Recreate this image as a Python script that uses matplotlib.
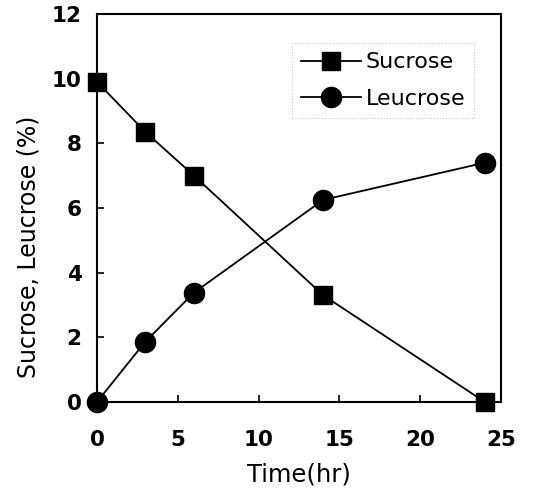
import numpy as np
import matplotlib.pyplot as plt

# data
time_hr = [0, 3, 6, 14, 24]
sucrose = [9.9, 8.35, 7.0, 3.3, 0.0]
leucrose = [0.0, 1.87, 3.38, 6.25, 7.4]

plt.rcParams['font.family'] = ['DejaVu Sans']

fig = plt.figure(figsize=(5.47, 4.92), dpi=100)
ax = fig.add_axes([0.1773, 0.183, 0.7386, 0.7886])

ax.plot(time_hr, sucrose, color='black', lw=1.3, marker='s', ms=13,
        label='Sucrose', clip_on=False, zorder=3)
ax.plot(time_hr, leucrose, color='black', lw=1.3, marker='o', ms=14.5,
        label='Leucrose', clip_on=False, zorder=3)

ax.set_xlim(0, 25)
ax.set_ylim(0, 12)
ax.set_xticks([0, 5, 10, 15, 20, 25])
ax.set_yticks([0, 2, 4, 6, 8, 10, 12])
ax.tick_params(direction='in', length=5, width=1.2, labelsize=15.5,
               top=False, right=False)
ax.tick_params(axis='x', pad=20)
ax.tick_params(axis='y', pad=11)
for lab in ax.get_xticklabels() + ax.get_yticklabels():
    lab.set_fontweight('semibold')
for s in ax.spines.values():
    s.set_linewidth(1.5)

ax.set_xlabel('Time(hr)', fontsize=17.5, labelpad=9)
ax.set_ylabel('Sucrose, Leucrose (%)', fontsize=17)
ax.yaxis.set_label_coords(-0.14, 0.40)

leg = ax.legend(loc='upper right', bbox_to_anchor=(0.933, 0.924), fontsize=16,
                handlelength=2.7, frameon=True, fancybox=False, borderaxespad=0,
                borderpad=0.4, labelspacing=0.75, handletextpad=0.2)
leg.get_frame().set_edgecolor('#bbbbbb')
leg.get_frame().set_linestyle(':')
leg.get_frame().set_linewidth(0.8)

fig.savefig('out.png', dpi=100)
